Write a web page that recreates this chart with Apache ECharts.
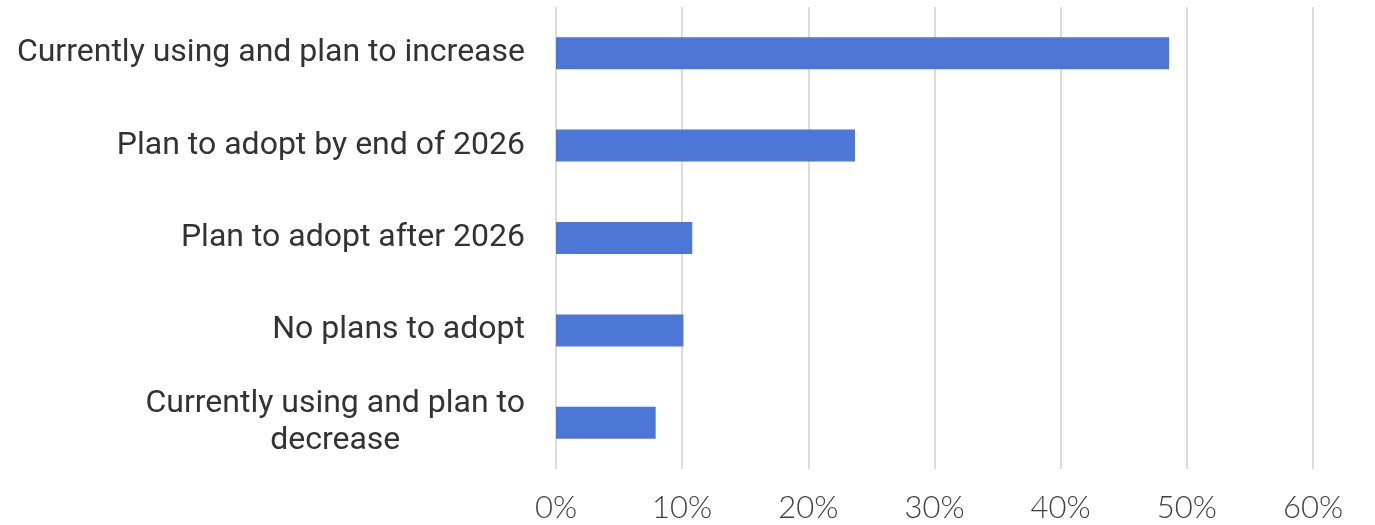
<!DOCTYPE html>
<html>
<head>
<meta charset="utf-8">
<script src="https://cdn.jsdelivr.net/npm/echarts@6/dist/echarts.min.js"></script>
<style>
  html, body { margin: 0; padding: 0; background: #ffffff; }
  #chart { width: 1375px; height: 525px; }
</style>
</head>
<body>
<div id="chart"></div>
<script>
const categories = [
  "Currently using and plan to increase",
  "Plan to adopt by end of 2026",
  "Plan to adopt after 2026",
  "No plans to adopt",
  "Currently using and plan to\ndecrease"
];
const values = [48.6, 23.7, 10.8, 10.1, 7.9];
const tickMin = 0;
const tickMax = 60;
const tickStep = 10;

const chart = echarts.init(document.getElementById('chart'), null, { renderer: 'canvas' });

const labelStyle = { fontFamily: 'Roboto', fontSize: 32, color: '#333333', align: 'center', lineHeight: 37 };

chart.setOption({
  animation: false,
  backgroundColor: '#ffffff',
  grid: { left: 556, right: 62, top: 7, bottom: 56, containLabel: false },
  xAxis: {
    type: 'value',
    min: tickMin,
    max: tickMax,
    interval: tickStep,
    axisLine: { show: false },
    axisTick: { show: false },
    splitLine: { show: true, lineStyle: { color: '#dcdcdc', width: 2 } },
    axisLabel: {
      formatter: '{value}%',
      fontFamily: 'Lato',
      fontWeight: 300,
      fontSize: 31,
      color: '#404040',
      margin: 23
    }
  },
  yAxis: {
    type: 'category',
    data: categories,
    inverse: true,
    axisLine: { show: false },
    axisTick: { show: false },
    splitLine: { show: false },
    axisLabel: {
      margin: 31,
      align: 'right',
      fontFamily: 'Roboto',
      fontSize: 32,
      color: '#333333',
      lineHeight: 37,
      formatter: function (v) {
        return v.split('\n').map(function (s) { return '{c|' + s + '}'; }).join('\n');
      },
      rich: { c: labelStyle }
    }
  },
  series: [{
    type: 'bar',
    data: values,
    barWidth: 32,
    itemStyle: { color: '#4c77d6' },
    label: { show: false }
  }]
});
</script>
</body>
</html>
